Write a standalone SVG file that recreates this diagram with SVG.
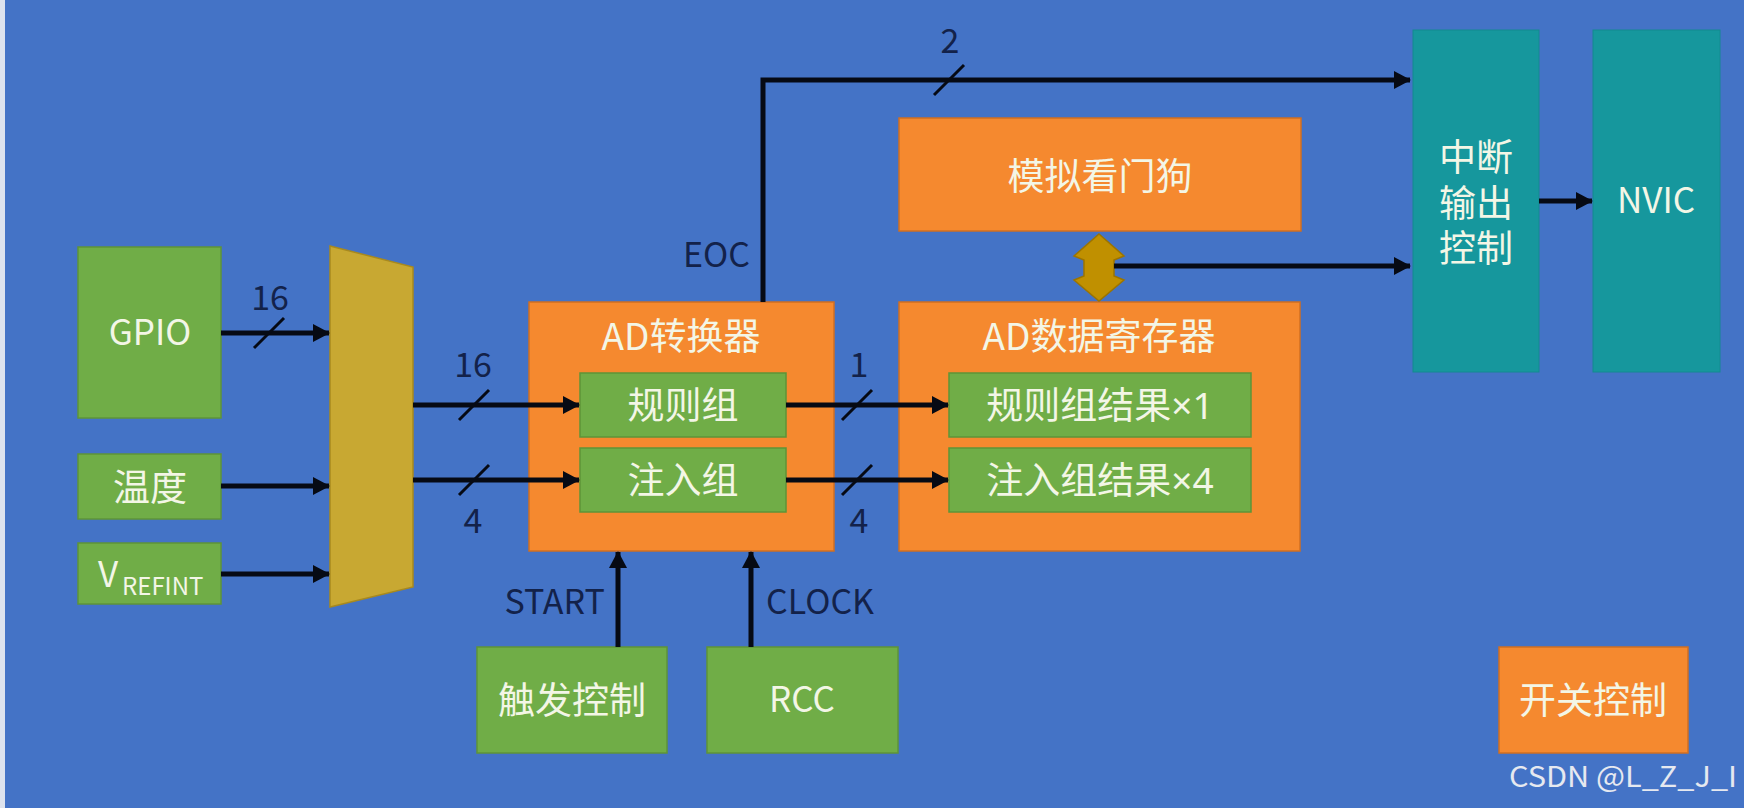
<svg xmlns="http://www.w3.org/2000/svg" width="1744" height="808" viewBox="0 0 1744 808">
<style>
  .g{fill:#70AD47;stroke:#5E9438;stroke-width:1.5}
  .o{fill:#F5892F;stroke:#D06F22;stroke-width:1.5}
  .t{fill:#16979D;stroke:#138A90;stroke-width:1}
  .nt{font-family:"Noto Sans CJK SC","Noto Sans",sans-serif;font-size:37px;fill:#F3F6E6;text-anchor:middle}
  .lat{font-size:35px}
  .lt{font-family:"Noto Sans CJK SC","Noto Sans",sans-serif;font-size:34px;fill:#13224A}
  .x{font-family:"Noto Sans",sans-serif}
  .ln{fill:none;stroke:#060A14;stroke-width:5}
  .sl{fill:none;stroke:#060A14;stroke-width:3}
</style>
<defs>
  <marker id="ah" markerUnits="userSpaceOnUse" markerWidth="17" markerHeight="18" refX="16" refY="9" orient="auto">
    <path d="M0,0 L17,9 L0,18 z" fill="#060A14"/>
  </marker>
</defs>
<rect x="0" y="0" width="1744" height="808" fill="#4473C6"/>
<rect x="0" y="0" width="5" height="808" fill="#DDE3EE"/>

<g id="gpio"><rect class="g" x="78" y="247" width="143" height="171"/><text class="nt lat" x="150" y="345">GPIO</text></g>
<g id="temp"><rect class="g" x="78" y="454" width="143" height="65"/><text class="nt" x="150" y="501">温度</text></g>
<g id="vrefint"><rect class="g" x="78" y="543" width="143" height="61"/>
  <text class="nt lat" x="98" y="587" style="text-anchor:start">V</text>
  <text class="nt" x="122" y="595" style="text-anchor:start;font-size:24px">REFINT</text></g>
<g id="mux"><polygon points="330,246 413,267 413,587 330,607" fill="#C8A832" stroke="#A8891E" stroke-width="1.5"/></g>

<g id="adc"><rect class="o" x="529" y="302" width="305" height="249"/><text class="nt" x="681" y="350">AD转换器</text></g>
<g id="regular"><rect class="g" x="580" y="373" width="206" height="64"/><text class="nt" x="683" y="419">规则组</text></g>
<g id="injected"><rect class="g" x="580" y="448" width="206" height="64"/><text class="nt" x="683" y="494">注入组</text></g>

<g id="datareg"><rect class="o" x="899" y="302" width="401" height="249"/><text class="nt" x="1099" y="350">AD数据寄存器</text></g>
<g id="regres"><rect class="g" x="949" y="373" width="302" height="64"/><text class="nt" x="1100" y="419">规则组结果<tspan class="x">×1</tspan></text></g>
<g id="injres"><rect class="g" x="949" y="448" width="302" height="64"/><text class="nt" x="1100" y="494">注入组结果<tspan class="x">×4</tspan></text></g>

<g id="watchdog"><rect class="o" x="899" y="118" width="402" height="113"/><text class="nt" x="1100" y="190">模拟看门狗</text></g>
<g id="dblarrow"><polygon points="1099,234 1124,256 1114,260 1114,276 1124,280 1099,301 1074,280 1084,276 1084,260 1074,256" fill="#C09000" stroke="#9C7400" stroke-width="1.5"/></g>

<g id="intctrl"><rect class="t" x="1413" y="30" width="126" height="342"/>
  <text class="nt" x="1476" y="171"><tspan x="1476" y="171">中断</tspan><tspan x="1476" y="217">输出</tspan><tspan x="1476" y="262">控制</tspan></text></g>
<g id="nvic"><rect class="t" x="1593" y="30" width="127" height="342"/><text class="nt lat" x="1656" y="213">NVIC</text></g>

<g id="trigger"><rect class="g" x="477" y="647" width="190" height="106"/><text class="nt" x="572" y="714">触发控制</text></g>
<g id="rcc"><rect class="g" x="707" y="647" width="191" height="106"/><text class="nt lat" x="802" y="712">RCC</text></g>
<g id="switch"><rect class="o" x="1499" y="647" width="189" height="106"/><text class="nt" x="1593" y="714">开关控制</text></g>

<g id="connectors">
  <path class="ln" d="M221,333 H329" marker-end="url(#ah)"/>
  <path class="ln" d="M221,486 H329" marker-end="url(#ah)"/>
  <path class="ln" d="M221,574 H329" marker-end="url(#ah)"/>
  <path class="ln" d="M413,405 H579" marker-end="url(#ah)"/>
  <path class="ln" d="M413,480 H579" marker-end="url(#ah)"/>
  <path class="ln" d="M786,405 H948" marker-end="url(#ah)"/>
  <path class="ln" d="M786,480 H948" marker-end="url(#ah)"/>
  <path class="ln" d="M763,302 V80 H1410" marker-end="url(#ah)"/>
  <path class="ln" d="M1114,266 H1410" marker-end="url(#ah)"/>
  <path class="ln" d="M1539,201 H1592" marker-end="url(#ah)"/>
  <path class="ln" d="M618,647 V552" marker-end="url(#ah)"/>
  <path class="ln" d="M751,647 V552" marker-end="url(#ah)"/>
  <path class="sl" d="M254,348 L284,318"/>
  <path class="sl" d="M459,420 L489,390"/>
  <path class="sl" d="M459,495 L489,465"/>
  <path class="sl" d="M842,420 L872,390"/>
  <path class="sl" d="M842,495 L872,465"/>
  <path class="sl" d="M934,95 L964,65"/>
  <text class="lt" x="270" y="310" text-anchor="middle">16</text>
  <text class="lt" x="473" y="377" text-anchor="middle">16</text>
  <text class="lt" x="473" y="533" text-anchor="middle">4</text>
  <text class="lt" x="859" y="377" text-anchor="middle">1</text>
  <text class="lt" x="859" y="533" text-anchor="middle">4</text>
  <text class="lt" x="950" y="53" text-anchor="middle">2</text>
  <text class="lt" x="750" y="267" text-anchor="end">EOC</text>
  <text class="lt" x="605" y="614" text-anchor="end">START</text>
  <text class="lt" x="766" y="614">CLOCK</text>
</g>
<text x="1509" y="787" font-family="'Noto Sans CJK SC','Noto Sans',sans-serif" font-size="29" fill="#E6E9F0" textLength="228" lengthAdjust="spacingAndGlyphs">CSDN @L_Z_J_I</text>
</svg>
